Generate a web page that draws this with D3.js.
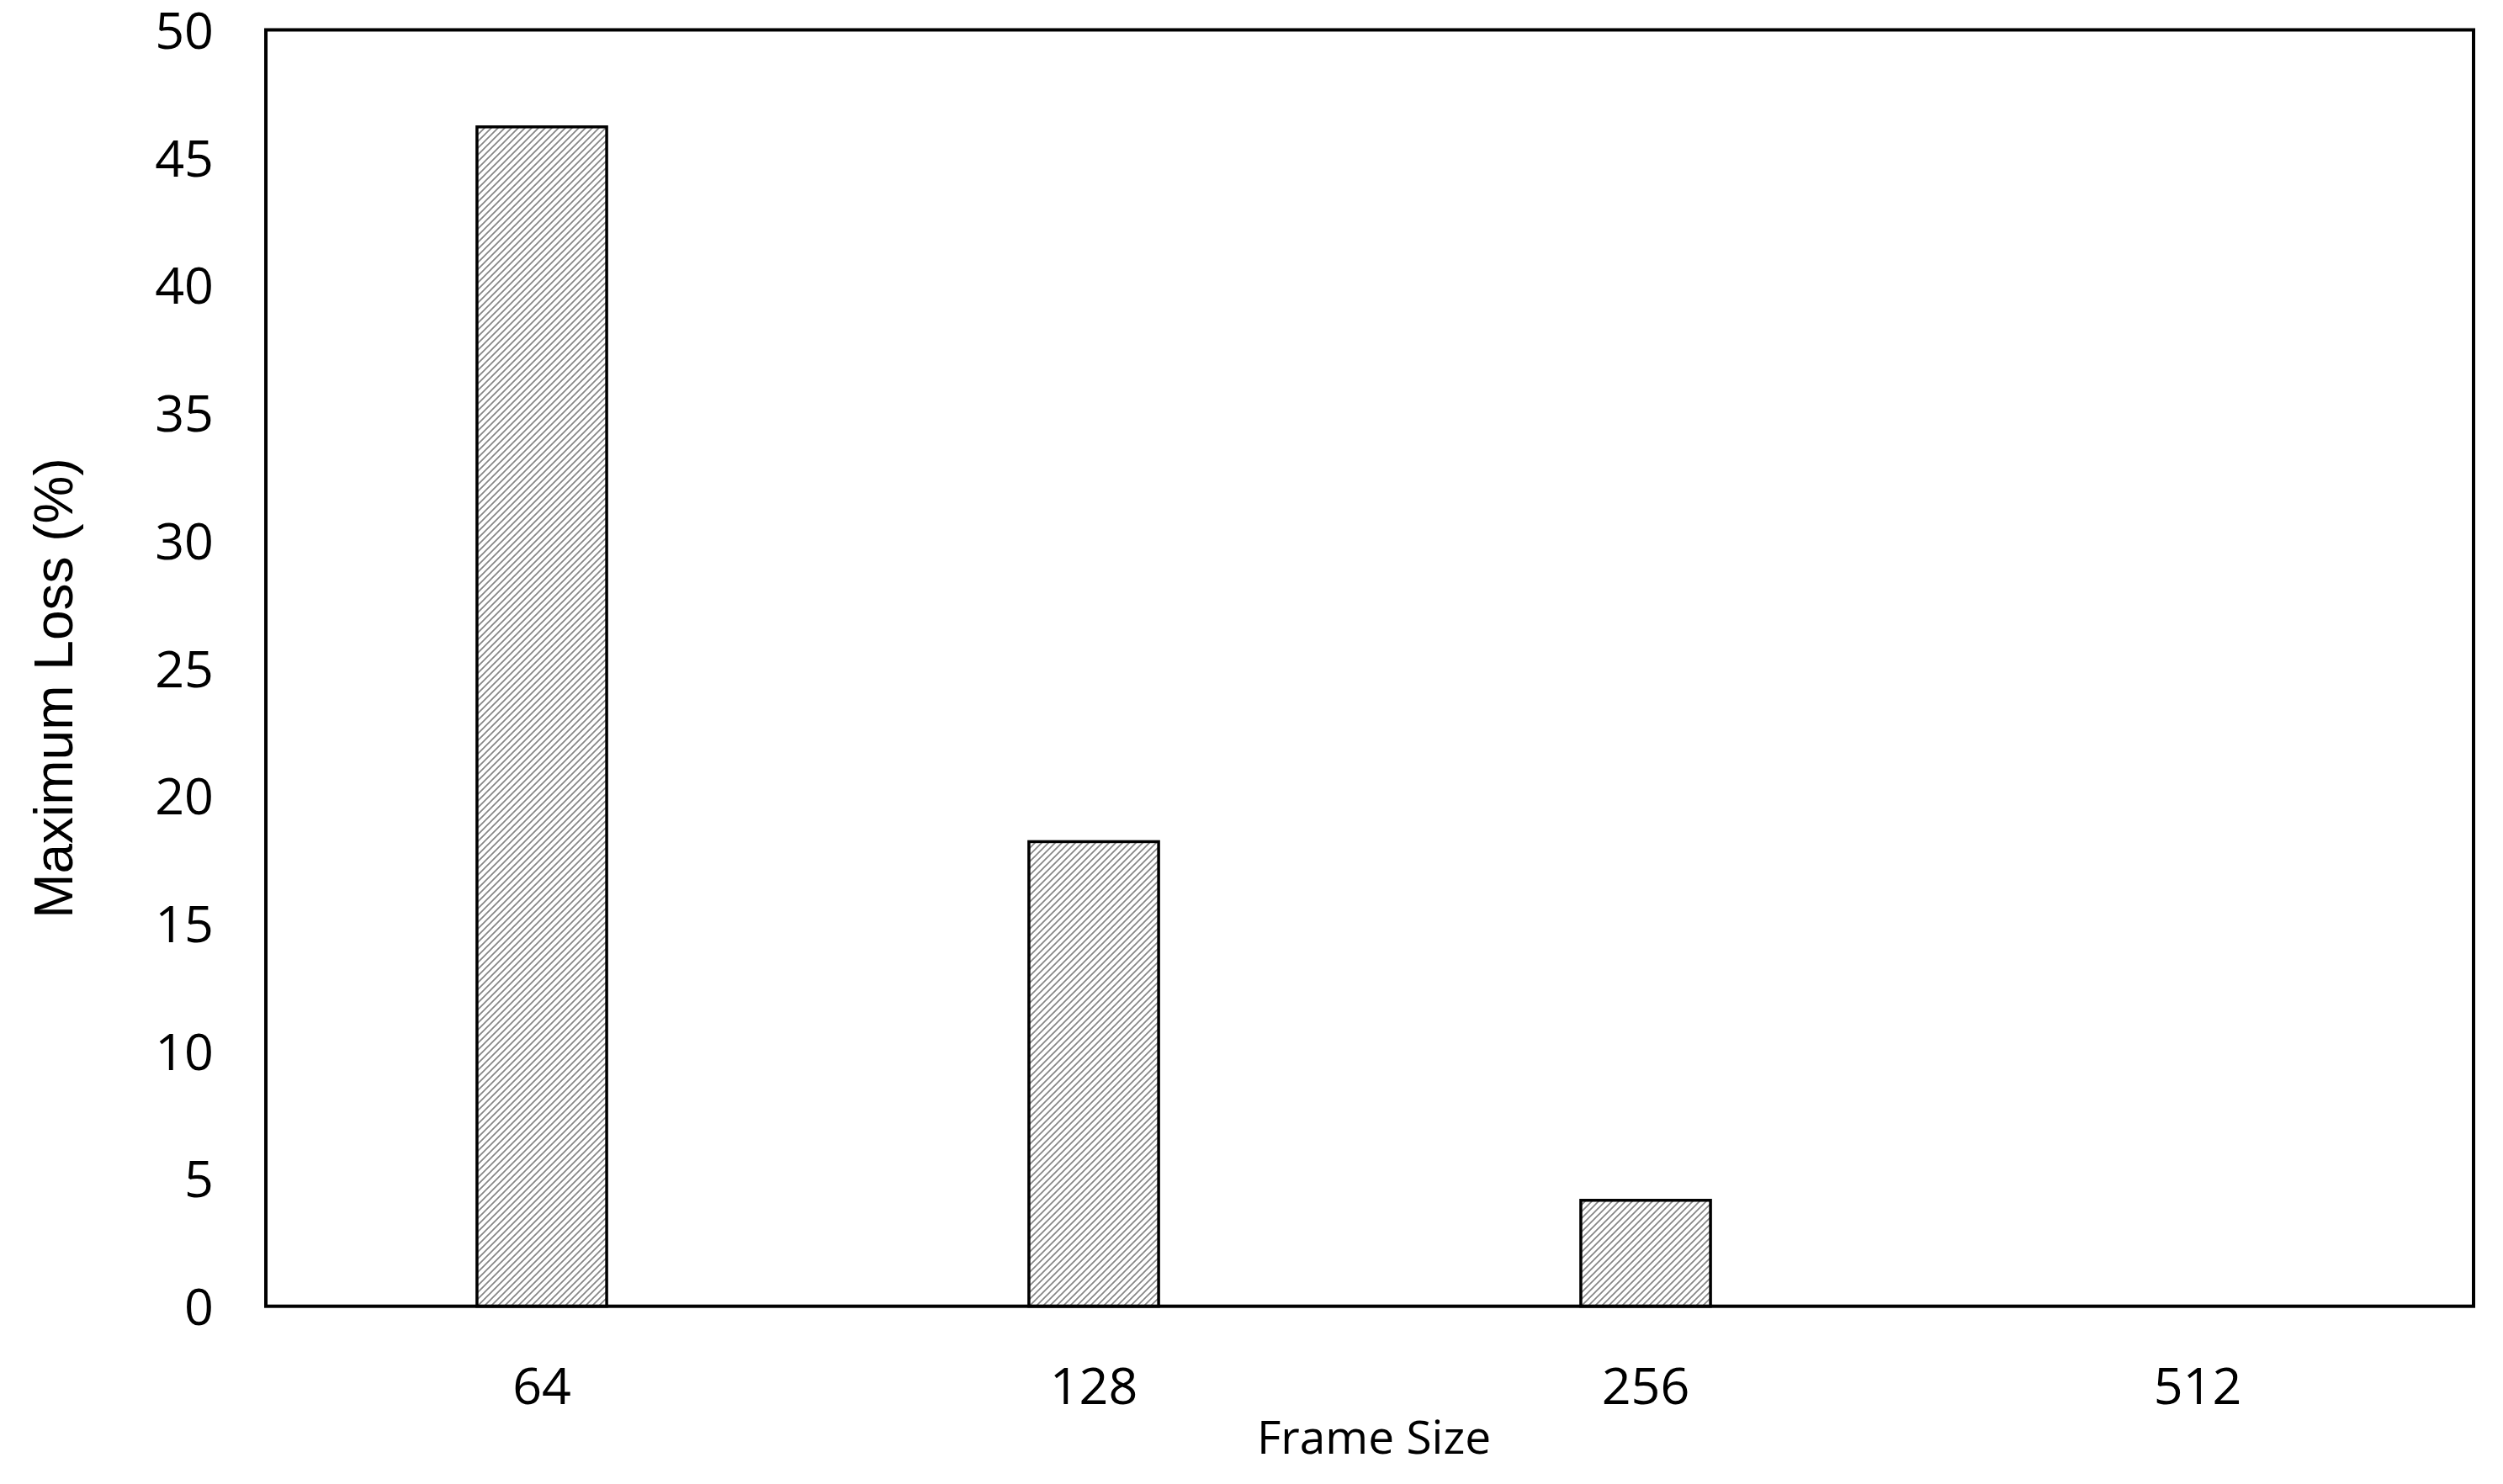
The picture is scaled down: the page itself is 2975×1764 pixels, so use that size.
<!DOCTYPE html>
<html>
<head>
<meta charset="utf-8">
<script src="https://cdn.jsdelivr.net/npm/d3@7"></script>
<style>
  html, body { margin: 0; padding: 0; background: #fff; }
  svg { display: block; }
</style>
</head>
<body>
<svg id="chart" width="2975" height="1764"></svg>
<script>
const categories = ["64", "128", "256", "512"];
const values = [46.2, 18.2, 4.15, 0];
const yTicks = [0, 5, 10, 15, 20, 25, 30, 35, 40, 45, 50];
const xTitle = "Frame Size";
const yTitle = "Maximum Loss (%)";

const W = 2975, H = 1764;
const m = { left: 316, right: W - 2940, top: 35.5, bottom: H - 1552.7 };
const svg = d3.select("#chart");

const defs = svg.append("defs");
const pat = defs.append("pattern")
  .attr("id", "hatch").attr("patternUnits", "userSpaceOnUse")
  .attr("width", 8).attr("height", 8);
pat.append("rect").attr("width", 8).attr("height", 8).attr("fill", "#fff");
pat.append("path").attr("d", "M-2,2 L2,-2 M0,8 L8,0 M6,10 L10,6")
  .attr("stroke", "#858585").attr("stroke-width", 1.7);

const x = d3.scaleBand().domain(categories)
  .range([m.left, W - m.right]).paddingInner(0).paddingOuter(0);
const y = d3.scaleLinear().domain([0, 50]).range([H - m.bottom, m.top]);
const barW = x.bandwidth() * 0.235;

// bars
svg.append("g").selectAll("rect").data(values.map((v, i) => ({ c: categories[i], v })))
  .join("rect")
  .filter(d => d.v > 0)
  .attr("x", d => x(d.c) + x.bandwidth() / 2 - barW / 2)
  .attr("width", barW)
  .attr("y", d => y(d.v))
  .attr("height", d => y(0) - y(d.v))
  .attr("fill", "url(#hatch)")
  .attr("stroke", "#000")
  .attr("stroke-width", 3.5);

// y axis labels
const yAxis = d3.axisLeft(y).tickValues(yTicks).tickSize(0).tickPadding(62);
const gy = svg.append("g").attr("transform", `translate(${m.left},0)`).call(yAxis);
gy.select(".domain").remove();
gy.selectAll("text")
  .attr("font-family", "'Open Sans', sans-serif")
  .attr("font-size", 61).attr("fill", "#000").attr("dy", "0.36em");

// x axis labels
const xAxis = d3.axisBottom(x).tickSize(0).tickPadding(0);
const gx = svg.append("g").attr("transform", `translate(0,${H - m.bottom})`).call(xAxis);
gx.select(".domain").remove();
gx.selectAll("text")
  .attr("font-family", "'Open Sans', sans-serif")
  .attr("font-size", 61).attr("fill", "#000")
  .attr("y", 1669 - (H - m.bottom)).attr("dy", 0);

// frame
svg.append("rect")
  .attr("x", m.left).attr("y", m.top)
  .attr("width", W - m.left - m.right).attr("height", H - m.top - m.bottom)
  .attr("fill", "none").attr("stroke", "#000").attr("stroke-width", 4);

// titles
svg.append("text")
  .attr("x", (m.left + W - m.right) / 2 + 5).attr("y", 1728)
  .attr("text-anchor", "middle")
  .attr("font-family", "'Open Sans', sans-serif")
  .attr("font-size", 55).attr("fill", "#000")
  .text(xTitle);

svg.append("text")
  .attr("transform", "translate(63,818) rotate(-90)")
  .attr("text-anchor", "middle").attr("dy", "0.36em")
  .attr("font-family", "'Liberation Sans', Arial, sans-serif")
  .attr("font-size", 64).attr("fill", "#000")
  .text(yTitle);
</script>
</body>
</html>
